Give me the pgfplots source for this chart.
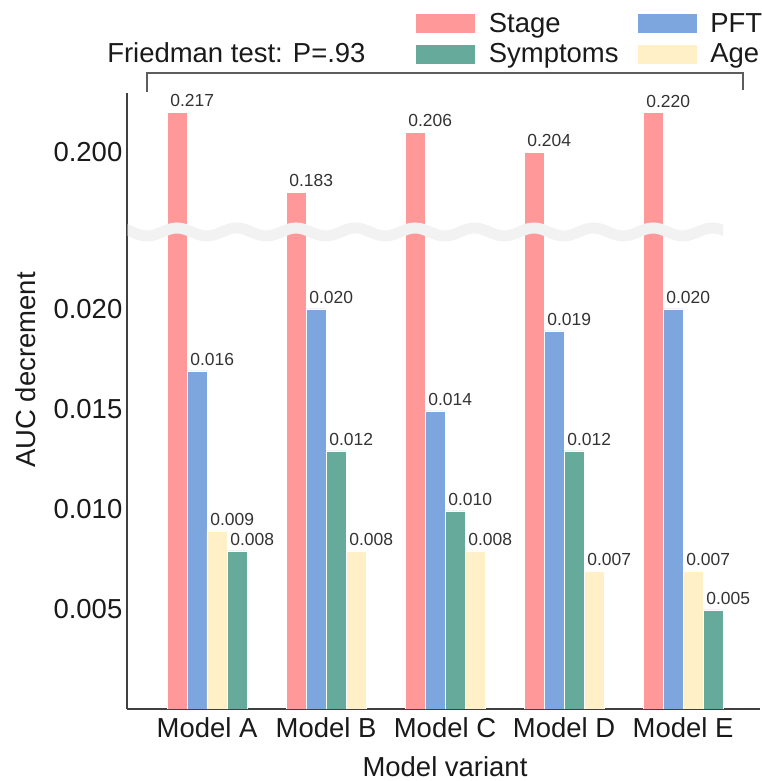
\documentclass[border=0pt]{standalone}
\usepackage{fontspec}
\setmainfont{Liberation Sans}
\usepackage{pgfplots}
\usepackage{pgfplotstable}
\pgfplotsset{compat=1.18}

\definecolor{stagec}{HTML}{FF9898}
\definecolor{pftc}{HTML}{7DA5DE}
\definecolor{sympc}{HTML}{66AA9B}
\definecolor{agec}{HTML}{FFF0C8}
\definecolor{spine}{HTML}{404040}
\definecolor{txt}{HTML}{1A1A1A}
\definecolor{lbl}{HTML}{333333}
\definecolor{brk}{HTML}{F2F2F2}

\newcommand{\bigfs}{\fontsize{20.6pt}{24pt}\selectfont}
\newcommand{\smallfs}{\fontsize{13.1pt}{15pt}\selectfont}

% x = group index + slot offset (bars sorted by value within each group)
\pgfplotstableread{
x y lab
-0.2521 0.2170 0.217
0.7479 0.1830 0.183
1.7479 0.2086 0.206
2.7479 0.2001 0.204
3.7479 0.2167 0.220
}\stagedata
\pgfplotstableread{
x y lab
-0.0840 0.0169 0.016
0.9160 0.0200 0.020
1.9160 0.0149 0.014
2.9160 0.0189 0.019
3.9160 0.0200 0.020
}\pftdata
\pgfplotstableread{
x y lab
0.0840 0.0089 0.009
1.2521 0.0079 0.008
2.2521 0.0079 0.008
3.2521 0.0069 0.007
4.0840 0.0069 0.007
}\agedata
\pgfplotstableread{
x y lab
0.2521 0.0079 0.008
1.0840 0.0129 0.012
2.0840 0.0099 0.010
3.0840 0.0129 0.012
4.2521 0.00495 0.005
}\sympdata

\pgfplotsset{
  common/.style={
    scale only axis, width=474.75pt, xmin=-0.67227, xmax=4.64706,
    axis line style={-, draw=spine, line width=0.9pt},
    every non boxed x axis/.append style={x axis line style={-}},
    every non boxed y axis/.append style={y axis line style={-}},
    major tick length=0pt,
    tick label style={font=\bigfs, text=txt},
    /pgf/number format/assume math mode=true,
    yticklabel style={/pgf/number format/.cd, fixed, fixed zerofill, precision=3},
    xticklabel style={yshift=-3pt},
    scaled y ticks=false,
    clip=true,
  },
  barstyle/.style={ybar, bar width=15pt, bar shift=0pt, draw=white, line width=0.6pt, fill=#1},
  lab/.style={nodes near coords=\pgfplotspointmeta, point meta=explicit symbolic,
    every node near coord/.append style={anchor=base west, xshift=-5.25pt, yshift=4.1pt, inner sep=0pt, font=\smallfs, text=lbl}},
}

\begin{document}
\begin{tikzpicture}
\useasboundingbox (0,0) rectangle (570.75pt,585.75pt);

% lower part
\begin{axis}[common,
  at={(95.25pt,54pt)}, anchor=south west,
  height=357.75pt,
  ymin=0, ymax=0.02385,
  axis x line=bottom, axis y line=left,
  x axis line style={-}, y axis line style={-},
  xtick={0,1,2,3,4}, xticklabels={Model A,Model B,Model C,Model D,Model E},
  ytick={0.005,0.010,0.015,0.020},
]
\addplot[barstyle=stagec] table[x=x,y=y] {\stagedata};
\addplot[barstyle=pftc, lab] table[x=x,y=y,meta=lab] {\pftdata};
\addplot[barstyle=agec, lab] table[x=x,y=y,meta=lab] {\agedata};
\addplot[barstyle=sympc, lab] table[x=x,y=y,meta=lab] {\sympdata};
\end{axis}

% upper part
\begin{axis}[common,
  at={(95.25pt,411.75pt)}, anchor=south west,
  height=104.25pt,
  ymin=0.16623, ymax=0.22513,
  axis y line=left, axis x line=none,
  x axis line style={-}, y axis line style={-},
  xtick=\empty, ytick={0.2},
  legend columns=2,
  legend cell align=left,
  legend style={at={(axis description cs:0.455,1.5755)}, anchor=north west, draw=none, fill=none,
    inner sep=0pt, outer sep=0pt, font=\bigfs, text=txt, row sep=7pt, nodes={inner sep=0pt},
    /tikz/every odd column/.append style={column sep=9.75pt},
    /tikz/every even column/.append style={column sep=13.5pt}},
  legend image code/.code={\draw[#1, line width=0.6pt] (0pt,-7.5pt) rectangle (45pt,7.5pt);},
]
\addplot[barstyle=stagec, lab, forget plot] table[x=x,y=y,meta=lab] {\stagedata};
\addlegendimage{fill=stagec, draw=white}
\addlegendentry{Stage}
\addlegendimage{fill=pftc, draw=white}
\addlegendentry{PFT}
\addlegendimage{fill=sympc, draw=white}
\addlegendentry{Symptoms}
\addlegendimage{fill=agec, draw=white}
\addlegendentry{Age}
\end{axis}

% decorations in pixel coordinates (y downwards)
\begin{scope}[shift={(0pt,585.75pt)}, x=0.75pt, y=-0.75pt]
  \begin{scope}
    \clip (127.7,205) rectangle (723,260);
    \draw[brk, line width=8.25pt] (117.5,228) \foreach \k in {1,...,11}{ cos ++(14.875,4) sin ++(14.875,4) cos ++(14.875,-4) sin ++(14.875,-4) };
  \end{scope}
  \draw[spine!85, line width=1pt] (147,92) -- (147,73) -- (743,73) -- (743,90);
  \node[anchor=base west, inner sep=0pt, font=\bigfs, text=txt] at (107,63) {Friedman test: P=.93};
  \node[rotate=90, inner sep=0pt, font=\bigfs, text=txt] at (26,370) {AUC decrement};
  \node[anchor=base, inner sep=0pt, font=\bigfs, text=txt] at (445,777) {Model variant};
\end{scope}
\end{tikzpicture}
\end{document}
